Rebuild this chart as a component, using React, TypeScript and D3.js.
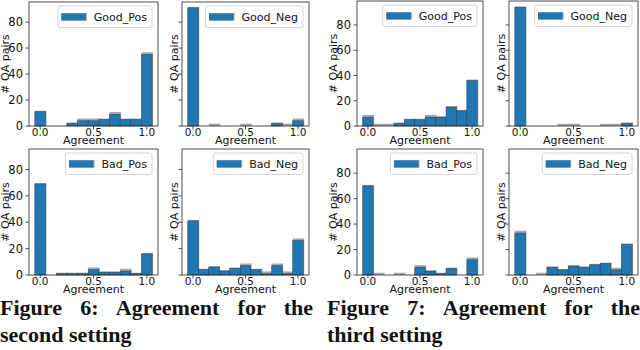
import React, { useEffect, useRef } from "react";
import * as d3 from "d3";

// bin centres of the agreement histograms
const bins = [0, 0.1, 0.2, 0.3, 0.4, 0.5, 0.6, 0.7, 0.8, 0.9, 1.0];
const xTicks = [0, 0.5, 1];
const yTicks = [0, 20, 40, 60, 80];
const xTickLabels = ["0.0", "0.5", "1.0"];
const legendNames = ["Good_Pos", "Good_Neg", "Bad_Pos", "Bad_Neg"];

// Figure 6 (second setting): blue = front histogram, gray = the one behind
const fig6GoodPosBlue = [11, 0, 0, 2, 4, 4, 5, 9, 5, 5, 55];
const fig6GoodPosGray = [11, 0, 0, 2, 5, 5, 5, 10, 5, 5, 56];
const fig6GoodNegBlue = [91, 0, 0, 0, 0, 0, 0, 0, 2, 0, 4];
const fig6GoodNegGray = [91, 0, 1, 0, 0, 1, 0, 0, 2, 1, 5];
const fig6BadPosBlue = [69, 0, 1, 1, 1, 4, 2, 2, 3, 1, 16];
const fig6BadPosGray = [69, 0, 1, 1, 1, 5, 2, 2, 4, 1, 16];
const fig6BadNegBlue = [41, 4, 6, 3, 5, 7, 4, 1, 7, 1, 26];
const fig6BadNegGray = [41, 4, 6, 3, 5, 8, 4, 2, 8, 2, 27];

// Figure 7 (third setting)
const fig7GoodPosBlue = [7, 0, 0, 2, 5, 5, 7, 7, 15, 12, 36];
const fig7GoodPosGray = [8, 1, 1, 2, 5, 5, 8, 7, 15, 12, 36];
const fig7GoodNegBlue = [94, 0, 0, 0, 0, 0, 0, 0, 0, 0, 2];
const fig7GoodNegGray = [94, 0, 0, 0, 1, 1, 0, 0, 1, 1, 2];
const fig7BadPosBlue = [70, 0, 0, 0, 0, 6, 3, 1, 5, 0, 12];
const fig7BadPosGray = [70, 1, 0, 1, 0, 7, 3, 1, 5, 0, 13];
const fig7BadNegBlue = [33, 0, 0, 6, 4, 7, 6, 8, 9, 4, 24];
const fig7BadNegGray = [34, 0, 1, 6, 4, 7, 6, 8, 9, 5, 24];

const captions = [
  { lines: ["Figure 6: Agreement for the", "second setting"], left: 0, right: 313 },
  { lines: ["Figure 7: Agreement for the", "third setting"], left: 327, right: 640 },
];

const BLUE = "#1f77b4";
const GRAY = "#a8a8a8";
const FONT = "DejaVu Sans";

type PanelSpec = {
  name: string;
  blue: number[];
  gray: number[];
  left: number;
  right: number;
  top: number;
  bottom: number;
  yMax: number;
  yLabels: boolean;
};

const panels: PanelSpec[] = [
  { name: legendNames[0], blue: fig6GoodPosBlue, gray: fig6GoodPosGray, left: 29, right: 158, top: 2, bottom: 126, yMax: 95.5, yLabels: true },
  { name: legendNames[1], blue: fig6GoodNegBlue, gray: fig6GoodNegGray, left: 182, right: 309, top: 2, bottom: 126, yMax: 95.5, yLabels: false },
  { name: legendNames[2], blue: fig6BadPosBlue, gray: fig6BadPosGray, left: 29, right: 158, top: 149, bottom: 275, yMax: 95.5, yLabels: true },
  { name: legendNames[3], blue: fig6BadNegBlue, gray: fig6BadNegGray, left: 182, right: 309, top: 149, bottom: 275, yMax: 95.5, yLabels: false },
  { name: legendNames[0], blue: fig7GoodPosBlue, gray: fig7GoodPosGray, left: 357, right: 483, top: 1, bottom: 126, yMax: 99, yLabels: true },
  { name: legendNames[1], blue: fig7GoodNegBlue, gray: fig7GoodNegGray, left: 509, right: 638, top: 1, bottom: 126, yMax: 99, yLabels: false },
  { name: legendNames[2], blue: fig7BadPosBlue, gray: fig7BadPosGray, left: 357, right: 483, top: 149, bottom: 275, yMax: 99, yLabels: true },
  { name: legendNames[3], blue: fig7BadNegBlue, gray: fig7BadNegGray, left: 509, right: 638, top: 149, bottom: 275, yMax: 99, yLabels: false },
];

const measureCtx =
  typeof document !== "undefined" ? document.createElement("canvas").getContext("2d") : null;
function textWidth(s: string, font: string) {
  if (!measureCtx) return s.length * 6.5;
  measureCtx.font = font;
  return measureCtx.measureText(s).width;
}

function Panel({ p }: { p: PanelSpec }) {
  const x = d3.scaleLinear().domain([-0.105, 1.105]).range([p.left, p.right]);
  const y = d3.scaleLinear().domain([0, p.yMax]).range([p.bottom, p.top]);
  const bw = x(0.1) - x(0);

  const tw = textWidth(p.name, `11px "${FONT}"`);
  const legW = 3.5 + 25.5 + 7 + tw + 5;
  const legR = p.right - 6;
  const legT = p.top + 4;

  return (
    <g>
      {/* gray histogram behind */}
      {bins.map((c, i) =>
        p.gray[i] > 0 ? (
          <rect
            key={"g" + i}
            x={x(c - 0.05)}
            y={y(p.gray[i]) - 1}
            width={bw + 1}
            height={p.bottom - y(p.gray[i]) + 1}
            fill={GRAY}
          />
        ) : null,
      )}
      {/* blue histogram */}
      {bins.map((c, i) =>
        p.blue[i] > 0 ? (
          <rect
            key={"b" + i}
            x={x(c - 0.05)}
            y={y(p.blue[i])}
            width={bw}
            height={p.bottom - y(p.blue[i])}
            fill={BLUE}
            stroke="#3c3c3c"
            strokeWidth={0.5}
          />
        ) : null,
      )}
      {/* frame */}
      <rect
        x={p.left}
        y={p.top}
        width={p.right - p.left}
        height={p.bottom - p.top}
        fill="none"
        stroke="#222"
        strokeWidth={0.8}
      />
      {/* y ticks */}
      {yTicks.map((t) => (
        <g key={"y" + t}>
          <line x1={p.left - 3.5} x2={p.left} y1={y(t)} y2={y(t)} stroke="#222" strokeWidth={0.8} />
          {p.yLabels && (
            <text
              x={p.left - 6}
              y={y(t)}
              dy="0.36em"
              textAnchor="end"
              fontFamily={FONT}
              fontSize={11.5}
              fill="#111"
            >
              {t}
            </text>
          )}
        </g>
      ))}
      {/* x ticks */}
      {xTicks.map((t, i) => (
        <g key={"x" + t}>
          <line x1={x(t)} x2={x(t)} y1={p.bottom} y2={p.bottom + 3.5} stroke="#222" strokeWidth={0.8} />
          <text x={x(t)} y={p.bottom + 9.5} textAnchor="middle" fontFamily={FONT} fontSize={10.5} fill="#111">
            {xTickLabels[i]}
          </text>
        </g>
      ))}
      <text
        x={(p.left + p.right) / 2}
        y={p.bottom + 17.5}
        textAnchor="middle"
        fontFamily={FONT}
        fontSize={11}
        fill="#111"
      >
        Agreement
      </text>
      <text
        transform={`translate(${p.yLabels ? p.left - 20 : p.left - 4},${(p.top + p.bottom) / 2}) rotate(-90)`}
        textAnchor="middle"
        fontFamily={FONT}
        fontSize={11}
        fill="#111"
      >
        # QA pairs
      </text>
      {/* legend */}
      <rect
        x={legR - legW}
        y={legT}
        width={legW}
        height={21.5}
        rx={2}
        fill="#fff"
        fillOpacity={0.8}
        stroke="#cccccc"
        strokeWidth={0.8}
      />
      <rect x={legR - legW + 3.5} y={legT + 7} width={25.5} height={7.5} fill={GRAY} />
      <rect x={legR - legW + 3.5} y={legT + 7.5} width={24.5} height={7} fill={BLUE} />
      <text
        x={legR - legW + 36}
        y={legT + 11}
        dy="0.36em"
        fontFamily={FONT}
        fontSize={11}
        fill="#111"
      >
        {p.name}
      </text>
    </g>
  );
}

export default function App() {
  const ref = useRef<SVGSVGElement>(null);

  useEffect(() => {
    // stretch word gaps so the first caption line is justified
    const svg = d3.select(ref.current);
    svg.selectAll<SVGTextElement, unknown>("text.justify").each(function () {
      const target = +(this.getAttribute("data-width") || 0);
      this.style.wordSpacing = "0px";
      const w = this.getComputedTextLength();
      const spaces = (this.textContent || "").split(" ").length - 1;
      if (spaces > 0) this.style.wordSpacing = `${(target - w) / spaces}px`;
    });
  }, []);

  return (
    <svg
      ref={ref}
      width={640}
      height={350}
      style={{ position: "absolute", left: 0, top: 0, background: "#fff" }}
    >
      {panels.map((p, i) => (
        <Panel key={i} p={p} />
      ))}
      {captions.map((c, i) => (
        <g key={"c" + i} fontFamily="Liberation Serif" fontWeight="bold" fontSize={22} fill="#111">
          <text className="justify" data-width={c.right - c.left} x={c.left} y={315}>
            {c.lines[0]}
          </text>
          <text x={c.left} y={342}>
            {c.lines[1]}
          </text>
        </g>
      ))}
    </svg>
  );
}
